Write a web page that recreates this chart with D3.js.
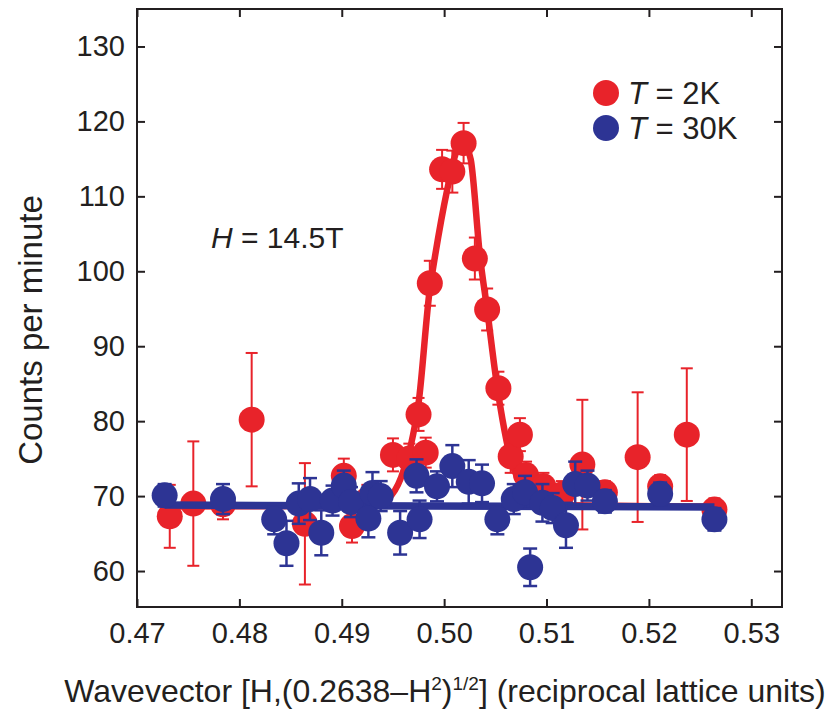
<!DOCTYPE html>
<html>
<head>
<meta charset="utf-8">
<script src="https://cdn.jsdelivr.net/npm/d3@7"></script>
<style>
  html, body { margin: 0; padding: 0; background: #fff; }
  svg { display: block; }
  text { font-family: "Liberation Sans", Arial, Helvetica, sans-serif; fill: #231f20; }
</style>
</head>
<body>
<svg id="chart" width="834" height="715"></svg>
<script>
// Axis ticks
const xTicks = [0.47, 0.48, 0.49, 0.50, 0.51, 0.52, 0.53];
const yTicks = [60, 70, 80, 90, 100, 110, 120, 130];

// T = 2K scan: wavevector H, counts per minute, error
const hRed = [0.4732, 0.4755, 0.4784, 0.4812, 0.4864, 0.4902, 0.4910, 0.4925, 0.4950, 0.4966,
              0.4975, 0.4982, 0.4986, 0.4998, 0.5008, 0.5019, 0.5030, 0.5042, 0.5053, 0.5065,
              0.5074, 0.5080, 0.5097, 0.5115, 0.5135, 0.5157, 0.5189, 0.5211, 0.5237, 0.5264];
const cRed = [67.3, 69.0, 68.9, 80.2, 66.3, 72.7, 66.0, 69.5, 75.5, 75.0,
              80.9, 75.8, 98.4, 113.6, 113.3, 117.1, 101.7, 94.9, 84.4, 75.3,
              78.2, 72.8, 71.3, 70.2, 74.2, 70.5, 75.2, 71.3, 78.2, 68.2];
const eRed = [4.2, 8.3, 2.0, 8.9, 8.1, 2.3, 2.2, 2.0, 2.2, 2.0,
              2.2, 2.0, 3.0, 2.6, 2.8, 2.7, 2.8, 2.8, 2.2, 2.2,
              2.2, 1.8, 1.8, 1.8, 8.65, 1.5, 8.65, 1.5, 8.85, 1.5];

// T = 30K scan
const hBlue = [0.4727, 0.4784, 0.4834, 0.4846, 0.4858, 0.4869, 0.4880, 0.4891, 0.4902, 0.4909,
               0.4926, 0.4930, 0.4938, 0.4957, 0.4973, 0.4976, 0.4993, 0.5008, 0.5024, 0.5037,
               0.5052, 0.5068, 0.5079, 0.5084, 0.5096, 0.5106, 0.5119, 0.5128, 0.5140, 0.5157,
               0.5211, 0.5264];
const cBlue = [70.1, 69.6, 66.9, 63.7, 69.0, 69.6, 65.1, 69.4, 71.4, 69.2,
               67.0, 70.4, 70.0, 65.1, 72.7, 66.9, 71.3, 74.0, 71.9, 71.7,
               66.9, 69.6, 70.5, 60.5, 69.1, 68.4, 66.1, 71.6, 71.4, 69.3,
               70.3, 66.9];
const eBlue = [1.5, 2.0, 2.0, 3.0, 2.7, 2.8, 3.0, 2.0, 2.0, 2.0,
               2.5, 2.8, 2.0, 2.9, 2.2, 2.5, 2.0, 2.8, 2.9, 2.5,
               2.0, 2.0, 2.2, 2.5, 2.5, 2.0, 3.0, 3.0, 2.0, 1.5,
               1.5, 1.5];

// Fitted curves
const fitHRed = [0.4732, 0.4930, 0.4945, 0.4958, 0.4967, 0.4975, 0.4986, 0.4990, 0.5003, 0.5011,
                 0.5017, 0.5022, 0.5026, 0.5035, 0.5042, 0.5052, 0.5057, 0.5064, 0.5072, 0.5085,
                 0.5100, 0.5264];
const fitCRed = [68.6, 68.7, 69.6, 72.5, 76.5, 82.4, 97.6, 101.1, 110.9, 115.6,
                 117.2, 116.4, 114.9, 102.0, 94.9, 84.4, 80.2, 75.5, 72.3, 69.8,
                 68.8, 68.6];
const fitHBlue = [0.4727, 0.5264];
const fitCBlue = [68.8, 68.55];

const RED = "#e8232a";
const BLUE = "#2d3494";
const INK = "#231f20";

const svg = d3.select("#chart");
const plot = { left: 137, right: 782, top: 9, bottom: 607 };

const x = d3.scaleLinear().domain([0.47, 0.5330]).range([plot.left, plot.right]);
const y = d3.scaleLinear().domain([55.2, 135]).range([plot.bottom, plot.top]);

// Axes with inward ticks on all four sides
const tickLen = 8;
const fontSize = 29;

const gBottom = svg.append("g").attr("transform", `translate(0,${plot.bottom})`)
  .call(d3.axisBottom(x).tickValues(xTicks).tickFormat(d3.format(".2f"))
        .tickSizeInner(-tickLen).tickSizeOuter(0).tickPadding(15));
const gTop = svg.append("g").attr("transform", `translate(0,${plot.top})`)
  .call(d3.axisTop(x).tickValues(xTicks).tickFormat("")
        .tickSizeInner(-tickLen).tickSizeOuter(0));
const gLeft = svg.append("g").attr("transform", `translate(${plot.left},0)`)
  .call(d3.axisLeft(y).tickValues(yTicks).tickFormat(d3.format("d"))
        .tickSizeInner(-tickLen).tickSizeOuter(0).tickPadding(12));
const gRight = svg.append("g").attr("transform", `translate(${plot.right},0)`)
  .call(d3.axisRight(y).tickValues(yTicks).tickFormat("")
        .tickSizeInner(-tickLen).tickSizeOuter(0));

[gBottom, gTop, gLeft, gRight].forEach(g => {
  g.select(".domain").remove();
  g.selectAll(".tick line").attr("stroke", INK).attr("stroke-width", 2);
  g.selectAll(".tick text").attr("fill", INK).style("font-size", fontSize + "px")
    .style("font-family", '"Liberation Sans", Arial, Helvetica, sans-serif');
});

// Frame
svg.append("rect")
  .attr("x", plot.left).attr("y", plot.top)
  .attr("width", plot.right - plot.left).attr("height", plot.bottom - plot.top)
  .attr("fill", "none").attr("stroke", INK).attr("stroke-width", 2);

const lineGen = d3.line().x(d => x(d[0])).y(d => y(d[1])).curve(d3.curveMonotoneX);

function drawSeries(hs, cs, es, fitH, fitC, color, capW, errW, lineW) {
  const pts = hs.map((h, i) => ({ h, c: cs[i], e: es[i] }));
  const g = svg.append("g");
  g.append("path")
    .datum(fitH.map((h, i) => [h, fitC[i]]))
    .attr("d", lineGen)
    .attr("fill", "none").attr("stroke", color).attr("stroke-width", lineW)
    .attr("stroke-linejoin", "round");
  const eb = g.append("g").selectAll("g").data(pts).join("g");
  eb.append("line")
    .attr("x1", d => x(d.h)).attr("x2", d => x(d.h))
    .attr("y1", d => y(d.c - d.e)).attr("y2", d => y(d.c + d.e))
    .attr("stroke", color).attr("stroke-width", errW);
  [-1, 1].forEach(s => {
    eb.append("line")
      .attr("x1", d => x(d.h) - capW / 2).attr("x2", d => x(d.h) + capW / 2)
      .attr("y1", d => y(d.c + s * d.e)).attr("y2", d => y(d.c + s * d.e))
      .attr("stroke", color).attr("stroke-width", errW);
  });
  g.append("g").selectAll("circle").data(pts).join("circle")
    .attr("cx", d => x(d.h)).attr("cy", d => y(d.c)).attr("r", 13)
    .attr("fill", color);
}

drawSeries(hRed, cRed, eRed, fitHRed, fitCRed, RED, 12, 2, 6.5);
drawSeries(hBlue, cBlue, eBlue, fitHBlue, fitCBlue, BLUE, 14, 2.5, 7.5);

// Legend
const legend = [
  { label: "2K", color: RED, cy: 93 },
  { label: "30K", color: BLUE, cy: 128 }
];
legend.forEach(l => {
  svg.append("circle").attr("cx", 606).attr("cy", l.cy).attr("r", 13).attr("fill", l.color);
  const t = svg.append("text").attr("x", 628).attr("y", l.cy + 11)
    .style("font-size", "31px");
  t.append("tspan").style("font-style", "italic").text("T");
  t.append("tspan").text(" = " + l.label);
});

// Field annotation
const ann = svg.append("text").attr("x", 211).attr("y", 248).style("font-size", "30px");
ann.append("tspan").style("font-style", "italic").text("H");
ann.append("tspan").text(" = 14.5T");

// Axis titles
const xt = svg.append("text").attr("x", 445).attr("y", 702)
  .attr("text-anchor", "middle").style("font-size", "32px");
xt.append("tspan").text("Wavevector [H,(0.2638\u2013H");
xt.append("tspan").attr("dy", -12).style("font-size", "19px").text("2");
xt.append("tspan").attr("dy", 12).text(")");
xt.append("tspan").attr("dy", -12).style("font-size", "19px").text("1/2");
xt.append("tspan").attr("dy", 12).text("] (reciprocal lattice units)");

svg.append("text")
  .attr("transform", `translate(42,${(plot.top + plot.bottom) / 2 + 22}) rotate(-90)`)
  .attr("text-anchor", "middle").style("font-size", "33px")
  .text("Counts per minute");
</script>
</body>
</html>
